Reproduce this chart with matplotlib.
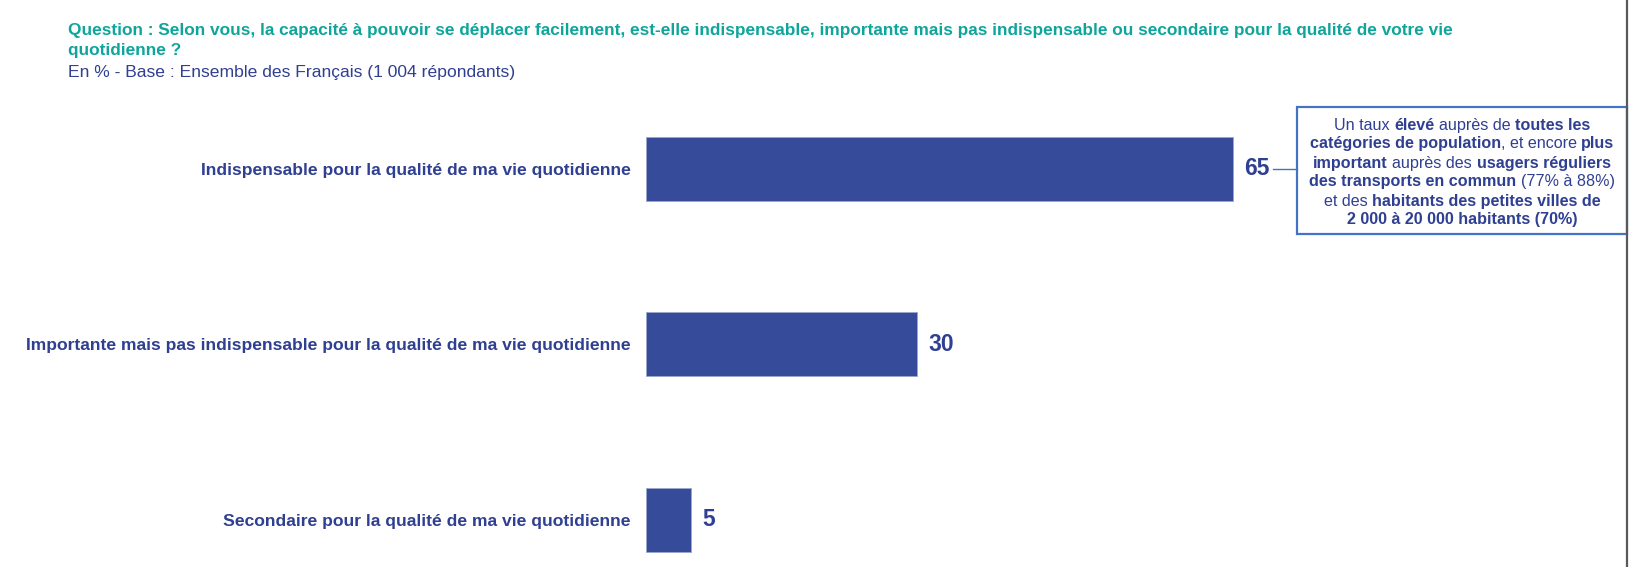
import matplotlib
matplotlib.use("Agg")
import matplotlib.pyplot as plt
from matplotlib.patches import Rectangle
from matplotlib.lines import Line2D

plt.rcParams["font.family"] = ["Liberation Sans", "DejaVu Sans"]

# data
categories = [
    "Indispensable pour la qualité de ma vie quotidienne",
    "Importante mais pas indispensable pour la qualité de ma vie quotidienne",
    "Secondaire pour la qualité de ma vie quotidienne",
]
values = [65, 30, 5]

title_lines = [
    "Question : Selon vous, la capacité à pouvoir se déplacer facilement, est-elle indispensable, "
    "importante mais pas indispensable ou secondaire pour la qualité de votre vie",
    "quotidienne ?",
]
subtitle = "En % - Base : Ensemble des Français (1 004 répondants)"

# callout text: (segment, bold?)
note_lines = [
    [("Un taux ", False), ("élevé", True), (" auprès de ", False), ("toutes les", True)],
    [("catégories de population", True), (", et encore ", False), ("plus", True)],
    [("important", True), (" auprès des ", False), ("usagers réguliers", True)],
    [("des transports en commun", True), (" (77% à 88%)", False)],
    [("et des ", False), ("habitants des petites villes de", True)],
    [("2 000 à 20 000 habitants (70%)", True)],
]

W, H = 1629, 567
BAR = "#364C9B"
NAVY = "#2F3F91"
TEAL = "#0EA59B"
BOXBLUE = "#4472C4"


def px(x, y):
    """pixel (from top-left) -> figure fraction"""
    return x / W, 1 - y / H


fig = plt.figure(figsize=(W / 100, H / 100), dpi=100)

# bar axes: x=0 at pixel 646, 9.03 px per unit; rows every 175.7 px from 168.5
left_px, unit_px = 646, 9.03
row0, step = 168.5, 175.7
ax = fig.add_axes([left_px / W, 0, 1 - left_px / W, 1])
ax.set_xlim(0, (W - left_px) / unit_px)
ax.set_ylim((H - row0) / step, -row0 / step)

ypos = list(range(len(categories)))
ax.barh(ypos, values, height=64 / step, color=BAR, edgecolor="#9AA6CF", linewidth=0.6)
for y, v in zip(ypos, values):
    ax.annotate(f"{v}", xy=(v, y), xytext=(8, 0), textcoords="offset points",
                ha="left", va="center", fontsize=16.5, fontweight="bold", color=NAVY)

ax.set_yticks(ypos)
ax.set_yticklabels(categories, fontsize=12.6, fontweight="bold", color=NAVY)
ax.tick_params(axis="y", length=0, pad=11)
ax.set_xticks([])
for s in ax.spines.values():
    s.set_visible(False)
ax.patch.set_visible(False)

# title block
fig.text(*px(68, 35), title_lines[0], fontsize=12.4, fontweight="bold", color=TEAL,
         ha="left", va="baseline")
fig.text(*px(68, 55), title_lines[1], fontsize=12.4, fontweight="bold", color=TEAL,
         ha="left", va="baseline")
fig.text(*px(68, 77), subtitle, fontsize=12.6, color=NAVY, ha="left", va="baseline")

# callout box + connector
bx0, by0, bx1, by1 = 1297, 107, 1627, 234
fig.patches.append(Rectangle(px(bx0, by1), (bx1 - bx0) / W, (by1 - by0) / H,
                             transform=fig.transFigure, fill=False,
                             edgecolor=BOXBLUE, linewidth=1.6))
fig.lines.append(Line2D([1273 / W, bx0 / W], [1 - 169 / H] * 2,
                        transform=fig.transFigure, color=BOXBLUE, linewidth=1.0))

# mixed-weight centred lines in the box
fig.canvas.draw()
rend = fig.canvas.get_renderer()
NOTE_FS = 11.6


def text_w(s, bold):
    t = fig.text(0, 0, s, fontsize=NOTE_FS, fontweight="bold" if bold else "normal")
    w = t.get_window_extent(rend).width
    t.remove()
    return w


def seg_w(s, bold):
    return text_w("X" + s + "X", bold) - text_w("XX", bold)


cx = (bx0 + bx1) / 2
for k, line in enumerate(note_lines):
    widths = [seg_w(s, b) for s, b in line]
    x = cx - sum(widths) / 2
    yb = round(129.5 + 19.0 * k)
    for (s, b), w in zip(line, widths):
        lead = len(s) - len(s.lstrip())
        off = seg_w(" " * lead, b) if lead else 0
        fig.text(*px(round(x + off), yb), s.strip(), fontsize=NOTE_FS,
                 fontweight="bold" if b else "normal", color=NAVY,
                 ha="left", va="baseline")
        x += w

# grey frame edge on the right
fig.lines.append(Line2D([1627 / W] * 2, [0, 1], transform=fig.transFigure,
                        color="#595959", linewidth=1.6))

fig.savefig("out.png", dpi=100)
